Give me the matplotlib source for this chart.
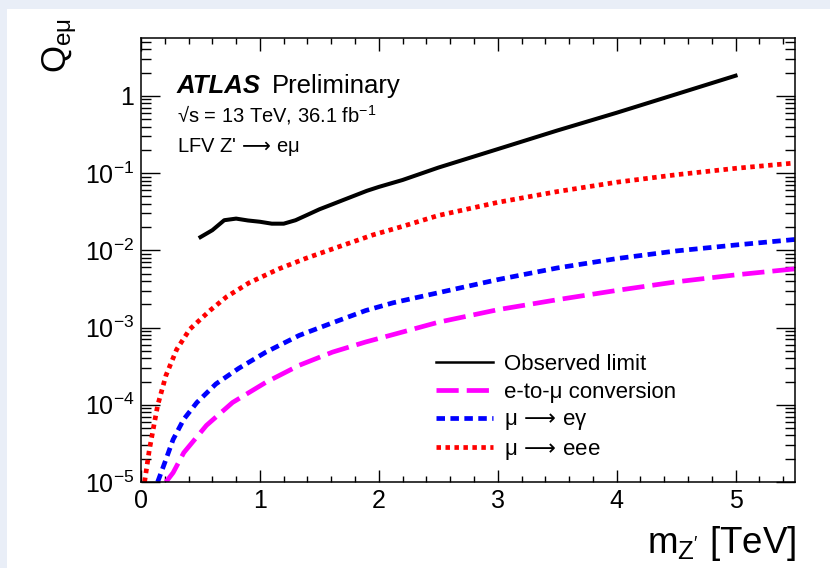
import numpy as np
import matplotlib

matplotlib.use("Agg")
import matplotlib.pyplot as plt
from matplotlib.patches import Rectangle
from matplotlib.ticker import FuncFormatter, LogLocator, MultipleLocator, NullFormatter

plt.rcParams["font.family"] = ["Liberation Sans", "DejaVu Sans"]
plt.rcParams["mathtext.fontset"] = "custom"
plt.rcParams["mathtext.rm"] = "Liberation Sans"
plt.rcParams["mathtext.it"] = "Liberation Sans:italic"
plt.rcParams["mathtext.bf"] = "Liberation Sans:bold"
plt.rcParams["mathtext.sf"] = "DejaVu Sans"

# values (mass in TeV, Q_emu)
obs_mass = [0.5, 0.6, 0.7, 0.8, 0.9, 1.0, 1.1, 1.2, 1.3, 1.4, 1.5, 1.6, 1.7,
            1.8, 1.9, 2.0, 2.2, 2.5, 3.0, 3.5, 4.0, 4.5, 5.0]
obs_q = [0.0148, 0.0182, 0.0245, 0.0257, 0.0243, 0.0234, 0.0221, 0.0221,
         0.0245, 0.0288, 0.0339, 0.0389, 0.0447, 0.0513, 0.0589, 0.0661,
         0.0813, 0.1175, 0.204, 0.355, 0.603, 1.047, 1.82]

meee_mass = [0.03, 0.07, 0.14, 0.21, 0.30, 0.41, 0.58, 0.72, 0.91, 1.16,
             1.39, 1.67, 1.95, 2.2, 2.5, 3.0, 3.5, 4.0, 4.5, 5.0, 5.5]
meee_q = [1.0e-5, 2.6e-5, 9.8e-5, 2.4e-4, 5.2e-4, 9.5e-4, 1.66e-3, 2.5e-3,
          3.8e-3, 5.75e-3, 7.9e-3, 1.12e-2, 1.58e-2, 2.04e-2, 2.82e-2,
          4.17e-2, 5.75e-2, 7.6e-2, 9.5e-2, 0.115, 0.135]

meg_mass = [0.14, 0.20, 0.27, 0.36, 0.47, 0.63, 0.82, 1.05, 1.33, 1.61, 1.89,
            2.12, 2.5, 3.0, 3.5, 4.0, 4.5, 5.0, 5.5]
meg_q = [1.0e-5, 1.78e-5, 3.55e-5, 6.5e-5, 1.07e-4, 1.86e-4, 2.95e-4,
         4.8e-4, 7.9e-4, 1.15e-3, 1.66e-3, 2.09e-3, 2.82e-3, 4.17e-3,
         5.9e-3, 7.8e-3, 9.8e-3, 1.17e-2, 1.38e-2]

etomu_mass = [0.21, 0.27, 0.36, 0.55, 0.77, 1.05, 1.33, 1.61, 1.89, 2.12,
              2.5, 3.0, 3.5, 4.0, 4.5, 5.0, 5.5]
etomu_q = [1.0e-5, 1.32e-5, 2.4e-5, 5.4e-5, 1.07e-4, 1.95e-4, 3.24e-4,
           4.8e-4, 6.5e-4, 8.1e-4, 1.17e-3, 1.70e-3, 2.29e-3, 3.02e-3,
           3.9e-3, 4.8e-3, 5.75e-3]

ARROW = r"$\,\mathsf{\longrightarrow}\,$"


def px(x, y):
    return x / 830, 1 - y / 568


fig = plt.figure(figsize=(8.3, 5.68), dpi=100)
fig.patch.set_facecolor("#e9eef7")
fig.add_artist(Rectangle(px(7, 568), 1, 1 - 9 / 568, transform=fig.transFigure,
                         facecolor="white", edgecolor="none", zorder=-1))

ax = fig.add_axes([141 / 830, 1 - 482 / 568, 654 / 830, 444 / 568])
ax.set_facecolor("none")

lw = 3.4
ax.plot(obs_mass, obs_q, color="black", lw=2.9, label="Observed limit")
ax.plot(etomu_mass, etomu_q, color="#ff00ff", lw=lw, ls=(0, (4.7, 1.7)),
        label="e-to-μ conversion")
ax.plot(meg_mass, meg_q, color="#0000ff", lw=lw, ls=(0, (1.8, 1.15)),
        label=f"μ{ARROW}eγ")
ax.plot(meee_mass, meee_q, color="#ff0000", lw=lw, ls=(0, (0.95, 0.95)),
        label=f"μ{ARROW}eee")

ax.set_yscale("log")
ax.set_xlim(0, 5.5)
ax.set_ylim(1e-5, 5.6)

ax.xaxis.set_major_locator(MultipleLocator(1))
ax.xaxis.set_minor_locator(MultipleLocator(0.2))
ax.yaxis.set_major_locator(LogLocator(base=10, numticks=20))
ax.yaxis.set_minor_locator(LogLocator(base=10, subs=np.arange(2, 10), numticks=20))
ax.yaxis.set_minor_formatter(NullFormatter())


def log_label(v, pos):
    e = int(round(np.log10(v)))
    return "1" if e == 0 else f"$10^{{{e}}}$"


ax.yaxis.set_major_formatter(FuncFormatter(log_label))

ax.tick_params(which="both", direction="in", top=True, right=True, width=1,
               labelsize=18)
ax.tick_params(axis="x", which="major", length=9, pad=5)
ax.tick_params(axis="x", which="minor", length=4.5)
ax.tick_params(axis="y", which="major", length=14, pad=5)
ax.tick_params(axis="y", which="minor", length=7)
for s in ax.spines.values():
    s.set_linewidth(1.1)

fig.text(*px(177, 93), "ATLAS", fontsize=18.5, fontweight="bold",
         fontstyle="italic", va="baseline")
fig.text(*px(272, 93), "Preliminary", fontsize=18.5, va="baseline")
fig.text(*px(177, 122), r"√s = 13 TeV, 36.1 fb$^{-1}$", fontsize=14.5, va="baseline")
fig.text(*px(177, 152), f"LFV Z'{ARROW}eμ", fontsize=14.5, va="baseline")

fig.text(*px(60, 18), r"Q$_{\mathrm{eμ}}$", rotation=90, fontsize=25,
         ha="center", va="top")
fig.text(*px(796, 553), r"m$_{\mathrm{Z'}}$ [TeV]", fontsize=26.5,
         ha="right", va="baseline")

leg = ax.legend(loc="upper left", bbox_to_anchor=((436 - 141) / 654, (482 - 354) / 444),
                frameon=False, fontsize=16, handlelength=2.55, handletextpad=0.5,
                labelspacing=0.3, borderpad=0, borderaxespad=0)
leg.get_lines()[0].set_linewidth(1.8)

fig.savefig("out.png", dpi=100, facecolor=fig.get_facecolor())
